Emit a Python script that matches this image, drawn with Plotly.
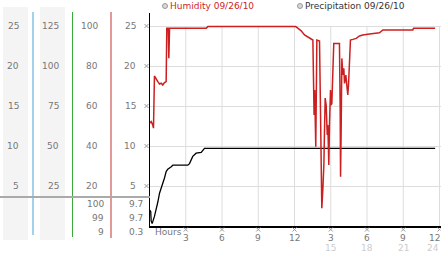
import plotly.graph_objects as go

W, H = 442, 253

# ---------------- data ----------------
hum_hours = [0.00, 0.14, 0.27, 0.33, 0.41, 0.55, 0.69, 0.83, 0.97, 1.10,
             1.24, 1.38, 1.43, 1.55, 1.60, 1.66, 4.69, 4.83, 12.10, 12.27,
             12.55, 12.83, 13.10, 13.38, 13.52, 13.62, 13.67, 13.76, 13.85, 14.07,
             14.13, 14.21, 14.26, 14.35, 14.43, 14.48, 14.54, 14.62, 14.71, 14.76,
             14.81, 14.84, 14.90, 14.98, 15.04, 15.09, 15.25, 15.72, 15.78, 15.81,
             15.86, 15.92, 16.00, 16.08, 16.14, 16.25, 16.30, 16.41, 16.47, 16.55,
             16.63, 16.83, 17.11, 17.38, 17.65, 18.21, 19.03, 19.31, 21.79, 21.85,
             23.64]
hum_vals = [51.4, 52.2, 50.5, 48.9, 75.0, 73.9, 72.2, 71.0, 71.4, 70.5,
            71.7, 72.2, 98.9, 98.9, 83.9, 98.9, 98.9, 99.7, 99.7, 98.9,
            97.6, 95.5, 94.7, 93.5, 93.0, 55.5, 68.0, 39.6, 93.0, 92.5,
            67.0, 30.5, 8.9, 18.9, 30.5, 47.0, 64.0, 60.5, 45.5, 50.5,
            39.0, 30.5, 52.0, 68.0, 60.5, 61.3, 91.3, 91.3, 58.8, 24.6,
            47.2, 83.8, 75.5, 78.8, 71.3, 75.5, 72.2, 65.5, 70.5, 80.5,
            93.0, 93.3, 93.8, 95.0, 95.5, 96.0, 96.6, 98.0, 98.0, 98.9,
            98.9]

pre_hours = [0.00, 0.10, 0.14, 0.22, 0.41, 0.55, 0.69, 0.83, 0.97, 1.10,
             1.24, 1.38, 1.51, 1.80, 1.93, 3.17, 3.31, 3.58, 3.86, 4.28,
             4.55, 23.64]
pre_vals = [2.0, 1.8, 0.6, 0.3, 1.2, 2.0, 3.0, 4.1, 4.7, 5.3,
            6.0, 6.8, 7.1, 7.4, 7.6, 7.6, 7.8, 8.7, 9.1, 9.2,
            9.7, 9.7]

x_tick_vals = [3, 6, 9, 12, 15, 18, 21, 24]
x_tick_text = ["3", "6", "9", "12", "3", "6", "9", "12"]
x_tick_24h = ["", "", "", "", "15", "18", "21", "24"]

col1_ticks = [5, 10, 15, 20, 25]          # 0-25 scale
col2_ticks = [25, 50, 75, 100, 125]       # 0-125 scale
col3_ticks = [20, 40, 60, 80, 100]        # humidity %
col4_ticks = [5, 10, 15, 20, 25]          # precipitation scale

hum_stats = ["100", "99", "9"]
pre_stats = ["9.7", "9.7", "0.3"]

legend_labels = ["Humidity 09/26/10", "Precipitation 09/26/10"]

# ---------------- helpers ----------------
def px(x):
    return x / W

def py(y):
    return 1 - y / H

FONT = "DejaVu Sans"
TICK_C = "#777777"
RED = "#cc1f1f"

Y_TOP = 26.625
X_MAX = 24 * 291 / 290
PX_PER_H = 291 / X_MAX
PX_PER_Y = 213 / Y_TOP

fig = go.Figure()

fig.add_trace(go.Scatter(x=pre_hours, y=pre_vals, mode="lines",
                         line=dict(color="#000000", width=1.3), yaxis="y",
                         hoverinfo="skip"))
fig.add_trace(go.Scatter(x=hum_hours, y=hum_vals, mode="lines",
                         line=dict(color=RED, width=1.5), yaxis="y2",
                         hoverinfo="skip"))

shapes = []
# grey column backgrounds
for x0, x1 in [(3, 28), (40, 65)]:
    shapes.append(dict(type="rect", xref="paper", yref="paper",
                       x0=px(x0), x1=px(x1), y0=py(240), y1=py(7),
                       fillcolor="#f4f4f4", line=dict(width=0), layer="below"))
# coloured separators
for xx, col, yb in [(33, "#46a3d6", 235), (72.5, "#3aa83a", 237), (111, "#c83232", 238)]:
    shapes.append(dict(type="line", xref="paper", yref="paper",
                       x0=px(xx), x1=px(xx), y0=py(12), y1=py(yb),
                       line=dict(color=col, width=1)))
# grey horizontal separator
shapes.append(dict(type="line", xref="paper", yref="paper",
                   x0=0, x1=px(150), y0=py(197), y1=py(197),
                   line=dict(color="#aaaaaa", width=2)))
# vertical gridlines
for t in x_tick_vals:
    shapes.append(dict(type="line", xref="x", yref="y", x0=t, x1=t, y0=0, y1=25,
                       line=dict(color="#dddddd", width=1), layer="below"))
# legend circles
for cx in [165, 300]:
    shapes.append(dict(type="circle", xref="paper", yref="paper",
                       x0=px(cx - 2.5), x1=px(cx + 2.5), y0=py(8.5), y1=py(3.5),
                       fillcolor="#d8d8d8", line=dict(color="#999999", width=1)))

# small "x" tick glyphs beside the axes
MARK = dict(color="#999999", width=1)
hx = 2 / PX_PER_H     # half-size in hours
hy = 2 / PX_PER_Y     # half-size in y units
for v in col4_ticks:
    cx = px(146.5)
    dx = 2 / W
    shapes.append(dict(type="path", xref="paper", yref="y",
                       path=f"M{cx-dx},{v-hy} L{cx+dx},{v+hy} M{cx-dx},{v+hy} L{cx+dx},{v-hy}",
                       line=MARK))
for t in x_tick_vals:
    cy = py(229.5)
    dy = 2 / H
    shapes.append(dict(type="path", xref="x", yref="paper",
                       path=f"M{t-hx},{cy-dy} L{t+hx},{cy+dy} M{t-hx},{cy+dy} L{t+hx},{cy-dy}",
                       line=MARK))

ann = []
def txt(text, x, y, xref="paper", yref="paper", xanchor="right", color=TICK_C,
        size=9, family=FONT):
    ann.append(dict(text=text, x=x, y=y, xref=xref, yref=yref, xanchor=xanchor,
                    yanchor="middle", showarrow=False,
                    font=dict(family=family, size=size, color=color)))

for v in col1_ticks:
    txt(str(v), px(20.5), v, yref="y")
for v in col2_ticks:
    txt(str(v), px(60.5), v, yref="y3")
for v in col3_ticks:
    txt(str(v), px(99.5), v, yref="y2")
for v in col4_ticks:
    txt(str(v), px(137.5), v, yref="y")

for s, yy in zip(hum_stats, [204, 218, 232]):
    txt(s, px(105.5), py(yy))
for s, yy in zip(pre_stats, [204, 218, 232]):
    txt(s, px(144.5), py(yy))

txt("Hours", px(153), py(232), xanchor="left", color="#777777")
last = len(x_tick_vals) - 1
for i, (v, t, t24) in enumerate(zip(x_tick_vals, x_tick_text, x_tick_24h)):
    if i == last:
        txt(t, px(442), py(238), xanchor="right")
        txt(t24, px(441), py(247.5), xanchor="right", color="#cccccc")
        continue
    txt(t, v, py(238), xref="x", xanchor="center")
    if t24:
        txt(t24, v, py(247.5), xref="x", xanchor="center", color="#cccccc")

txt(legend_labels[0], px(168), py(6), xanchor="left", color=RED)
txt(legend_labels[1], px(303), py(6), xanchor="left", color="#333333")

dom_y = [py(226), py(13)]
fig.update_layout(
    width=W, height=H, margin=dict(l=0, r=0, t=0, b=0),
    paper_bgcolor="white", plot_bgcolor="white",
    showlegend=False, hovermode=False,
    shapes=shapes, annotations=ann,
    xaxis=dict(domain=[px(149.5), px(440.5)], range=[0, X_MAX],
               showgrid=False, zeroline=False, showticklabels=False, ticks="",
               showline=True, linecolor="black", linewidth=2, fixedrange=True),
    yaxis=dict(domain=dom_y, range=[0, Y_TOP], tickvals=col4_ticks,
               showgrid=True, gridcolor="#dddddd", gridwidth=1, zeroline=False,
               showticklabels=False, ticks="", showline=True, linecolor="black",
               linewidth=1, fixedrange=True),
    yaxis2=dict(domain=dom_y, range=[0, Y_TOP * 4], overlaying="y",
                showgrid=False, zeroline=False, showticklabels=False,
                showline=False, fixedrange=True),
    yaxis3=dict(domain=dom_y, range=[0, Y_TOP * 5], overlaying="y",
                showgrid=False, zeroline=False, showticklabels=False,
                showline=False, fixedrange=True),
)

fig.write_html("out.html")
